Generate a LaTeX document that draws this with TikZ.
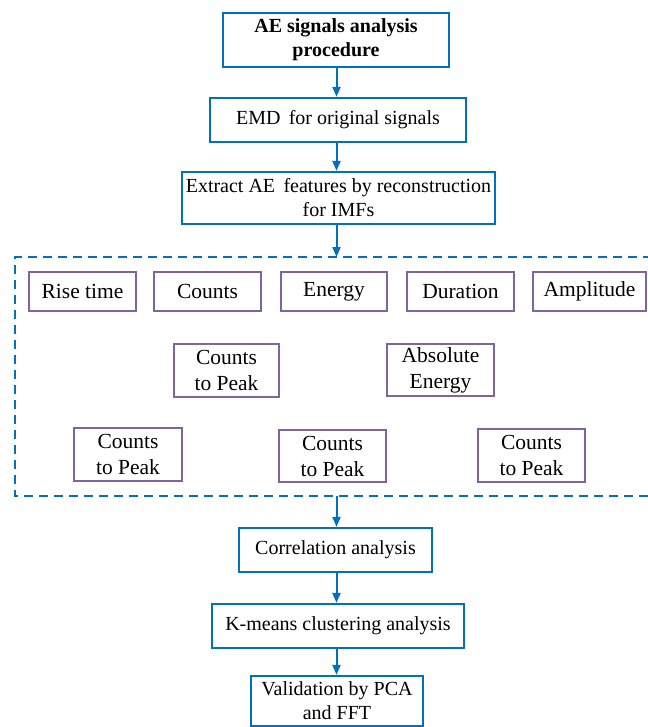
\documentclass[tikz,border=0pt]{standalone}
\usepackage{fontspec}
\setmainfont{Liberation Serif}
\usetikzlibrary{arrows.meta}
\definecolor{flowblue}{RGB}{0,112,192}
\definecolor{featpurple}{RGB}{128,100,162}
\begin{document}
\begin{tikzpicture}[x=1pt,y=-1pt,
  procbox/.style={draw=flowblue,line width=2.2pt,fill=white,align=center,inner sep=0pt,
    font=\fontsize{20}{24}\selectfont,text=black},
  featbox/.style={draw=featpurple,line width=2pt,fill=white,align=center,inner sep=0pt,
    font=\fontsize{21.5}{26}\selectfont,text=black,minimum height=39pt},
  flow/.style={draw=flowblue,line width=2pt,-{Triangle[length=10pt,width=8pt]}},
  groupline/.style={draw=flowblue,line width=2.4pt,dash pattern=on 9pt off 6pt}
]
\useasboundingbox (0,0) rectangle (647,727);
% group dashed frame (right edge beyond the picture)
\draw[groupline] (652,257) -- (15,257) -- (15,496) -- (652,496);
\coordinate (dtop) at (336.5,257);
\coordinate (dbot) at (336.5,496);

% main flow
\node[procbox,minimum width=226pt,minimum height=54pt] (top) at (336,40) {\textbf{AE signals analysis}\\\textbf{procedure}};
\node[procbox,minimum width=256pt,minimum height=44pt] (emd) at (338,120) {EMD\ \,for original signals};
\node[procbox,minimum width=313pt,minimum height=52pt] (extract) at (338.5,198) {Extract AE\ \,features by reconstruction\\for IMFs};
\node[procbox,minimum width=193pt,minimum height=44pt] (corr) at (335.5,550) {Correlation analysis};
\node[procbox,minimum width=252pt,minimum height=44pt] (kmeans) at (338,626) {K-means clustering analysis};
\node[procbox,minimum width=172pt,minimum height=50pt] (valid) at (337,701) {Validation by PCA\\and FFT};

% features
\node[featbox,minimum width=107pt] (rise) at (82.5,291.5) {Rise time};
\node[featbox,minimum width=107pt] (counts) at (207.5,291.5) {Counts};
\node[featbox,minimum width=106pt] (energy) at (334,291.5) {Energy};
\node[featbox,minimum width=107pt] (duration) at (460.5,291.5) {Duration};
\node[featbox,minimum width=113pt] (amp) at (589.5,291.5) {Amplitude};
\node[featbox,minimum width=105pt,minimum height=53pt] (ctpa) at (226.5,370.5) {Counts\\to Peak};
\node[featbox,minimum width=107pt,minimum height=52pt] (absen) at (440.5,370) {Absolute\\Energy};
\node[featbox,minimum width=108pt,minimum height=53pt] (ctpb) at (128,454.5) {Counts\\to Peak};
\node[featbox,minimum width=107pt,minimum height=52pt] (ctpc) at (332.5,456) {Counts\\to Peak};
\node[featbox,minimum width=107pt,minimum height=53pt] (ctpd) at (531.5,455.5) {Counts\\to Peak};

% connectors
\draw[flow] (top.south -| dtop) -- (emd.north -| dtop);
\draw[flow] (emd.south -| dtop) -- (extract.north -| dtop);
\draw[flow] (extract.south -| dtop) -- (dtop);
\draw[flow] (dbot) -- (corr.north -| dbot);
\draw[flow] (corr.south -| dbot) -- (kmeans.north -| dbot);
\draw[flow] (kmeans.south -| dbot) -- (valid.north -| dbot);
\end{tikzpicture}
\end{document}
